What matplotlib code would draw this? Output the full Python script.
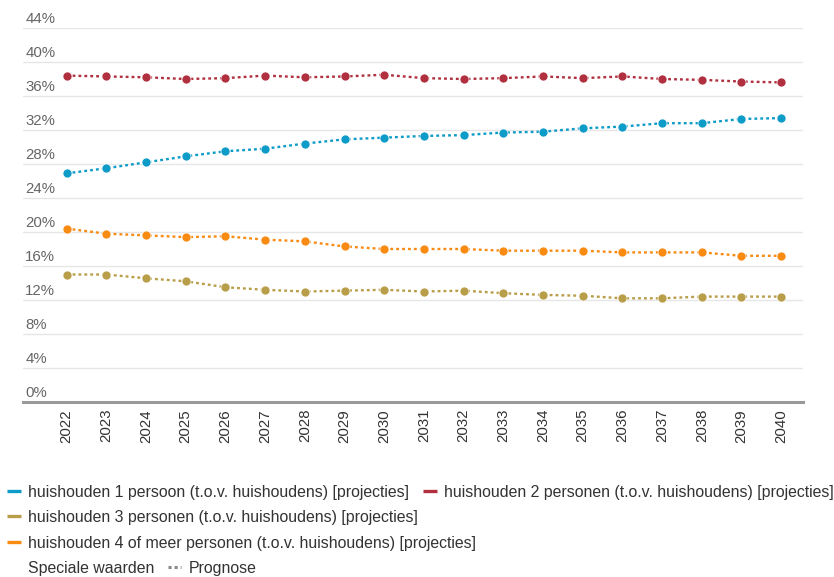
import matplotlib
matplotlib.use("Agg")
import matplotlib.pyplot as plt
from matplotlib.lines import Line2D
import matplotlib.transforms as mtransforms

plt.rcParams['font.family'] = ['Liberation Sans', 'DejaVu Sans']

years = list(range(2022, 2041))
year_labels = [str(y) for y in years]

een_persoon = [26.9, 27.5, 28.2, 28.9, 29.5, 29.8, 30.4, 30.9, 31.1, 31.3, 31.4, 31.7, 31.8, 32.2, 32.4, 32.8, 32.8, 33.3, 33.4]
twee_personen = [38.4, 38.3, 38.2, 38.0, 38.1, 38.4, 38.2, 38.3, 38.5, 38.1, 38.0, 38.1, 38.3, 38.1, 38.3, 38.0, 37.9, 37.7, 37.6]
drie_personen = [15.0, 15.0, 14.55, 14.2, 13.5, 13.2, 13.0, 13.1, 13.2, 13.0, 13.1, 12.8, 12.6, 12.5, 12.2, 12.2, 12.4, 12.4, 12.4]
vier_meer = [20.4, 19.8, 19.6, 19.4, 19.5, 19.1, 18.9, 18.3, 18.0, 18.0, 18.0, 17.8, 17.8, 17.8, 17.6, 17.6, 17.6, 17.2, 17.2]

series_labels = [
    "huishouden 1 persoon (t.o.v. huishoudens) [projecties]",
    "huishouden 2 personen (t.o.v. huishoudens) [projecties]",
    "huishouden 3 personen (t.o.v. huishoudens) [projecties]",
    "huishouden 4 of meer personen (t.o.v. huishoudens) [projecties]",
]
series_values = [een_persoon, twee_personen, drie_personen, vier_meer]
colors = ["#0d9bc8", "#b1303f", "#b89e48", "#f98a12"]

y_ticks = [0, 4, 8, 12, 16, 20, 24, 28, 32, 36, 40, 44]
y_tick_labels = [f"{t}%" for t in y_ticks]

W, H = 834, 577
fig = plt.figure(figsize=(W / 100, H / 100), dpi=100)
left, right, top, bottom = 23, 803, 28, 402
ax = fig.add_axes([left / W, 1 - bottom / H, (right - left) / W, (bottom - top) / H])

for vals, col in zip(series_values, colors):
    ax.plot(years, vals, color=col, linewidth=1.7, linestyle=(0, (1.2, 1.3)),
            dash_capstyle='butt', marker='o', markersize=6.5,
            markeredgecolor='white', markeredgewidth=0.5, zorder=3)

ax.set_xlim(2020.9, 2040.55)
ax.set_ylim(0, 44)
for s in ['top', 'right', 'left']:
    ax.spines[s].set_visible(False)
ax.spines['bottom'].set_color('#999999')
ax.spines['bottom'].set_linewidth(2.2)
ax.spines['bottom'].set_zorder(4)

ax.set_yticks(y_ticks)
ax.yaxis.grid(True, color='#e6e6e6', linewidth=1.0)
ax.set_axisbelow(True)
ax.tick_params(axis='y', length=0, labelleft=False)

offset = mtransforms.ScaledTranslation(0, 1.5 / 72, fig.dpi_scale_trans)
trans = mtransforms.blended_transform_factory(ax.transAxes, ax.transData) + offset
for t, lab in zip(y_ticks, y_tick_labels):
    ax.text(0.003, t, lab, transform=trans, ha='left', va='bottom',
            fontsize=10.8, color='#666666')

ax.set_xticks(years)
ax.set_xticklabels(year_labels, rotation=90, fontsize=10.8, color='#333333')
ax.tick_params(axis='x', length=0, pad=5)

FS = 11.4

def leg_item(x_px, y_px, color, text, dotted=False):
    yf = 1 - y_px / H
    if dotted:
        fig.add_artist(Line2D([x_px / W, (x_px + 13) / W], [yf, yf], color='#888888',
                              linewidth=2.2, linestyle=(0, (1, 1)), dash_capstyle='butt',
                              transform=fig.transFigure))
    else:
        fig.add_artist(Line2D([x_px / W, (x_px + 14) / W], [yf, yf], color=color,
                              linewidth=2.4, solid_capstyle='butt', transform=fig.transFigure))
    fig.text((x_px + 21) / W, yf, text, ha='left', va='center_baseline',
             fontsize=FS, color='#333333')

leg_item(7, 491, colors[0], series_labels[0])
leg_item(423, 491, colors[1], series_labels[1])
leg_item(7, 516, colors[2], series_labels[2])
leg_item(7, 542, colors[3], series_labels[3])
fig.text(28 / W, 1 - 567 / H, "Speciale waarden", ha='left', va='center_baseline',
         fontsize=FS, color='#333333')
leg_item(168, 567, '#888888', "Prognose", dotted=True)

fig.savefig("out.png", dpi=100)
